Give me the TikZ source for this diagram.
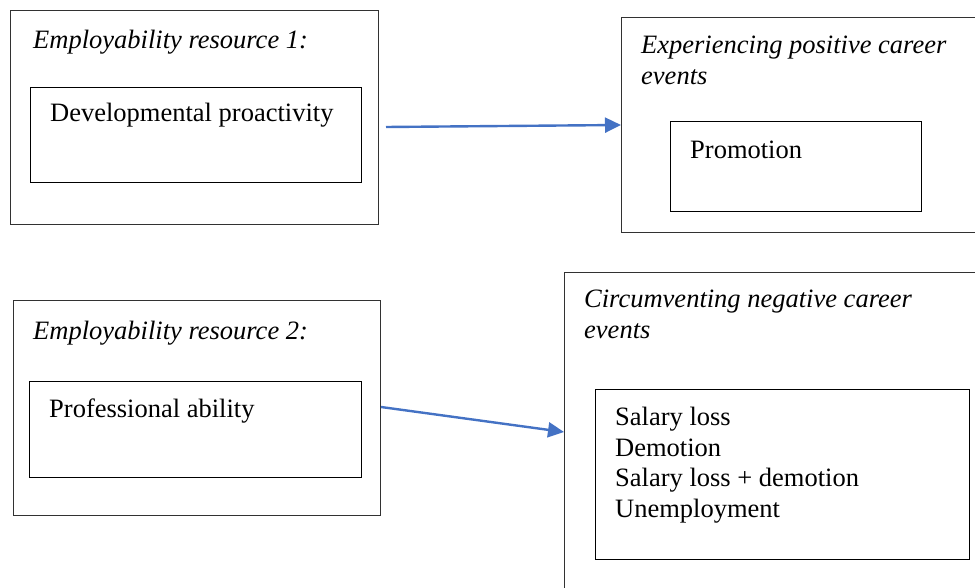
\documentclass[tikz,border=0pt]{standalone}
\usepackage{fontspec}
\setmainfont{Liberation Serif}
\usetikzlibrary{arrows.meta}
\definecolor{arrowblue}{RGB}{68,114,196}
\definecolor{boxgray}{RGB}{50,50,50}
\tikzset{
  outerbox/.style={draw=boxgray, line width=1.3pt, inner sep=0pt, anchor=north west},
  innerbox/.style={draw=black, line width=1.1pt, inner sep=0pt, anchor=north west},
  lbl/.style={anchor=base west, inner sep=0pt, font=\fontsize{26.5}{30.5}\selectfont},
  ilbl/.style={lbl, font=\fontsize{26.5}{30.5}\selectfont\itshape},
  conn/.style={draw=arrowblue, line width=2.4pt, -{Triangle[length=16pt,width=15pt]}}
}
\begin{document}
\begin{tikzpicture}[x=1pt,y=-1pt]
\useasboundingbox (0,0) rectangle (975,588);
\clip (0,0) rectangle (975,588);
% Box A
\node[outerbox, minimum width=368pt, minimum height=214pt] (A) at (10,10) {};
\node[ilbl] (At) at (33,49) {Employability resource 1:};
\node[innerbox, minimum width=331pt, minimum height=95pt] (Ai) at (30,87) {};
\node[lbl] (Ail) at (50,122) {Developmental proactivity};
% Box B
\node[outerbox, minimum width=380pt, minimum height=215pt] (B) at (621,17) {};
\node[ilbl, align=left, anchor=north west] (Bt) at (641,36) {Experiencing positive career\\events};
\node[innerbox, minimum width=251pt, minimum height=90pt] (Bi) at (670,121) {};
\node[lbl] (Bil) at (690,159) {Promotion};
% Box C
\node[outerbox, minimum width=367pt, minimum height=215pt] (C) at (13,300) {};
\node[ilbl] (Ct) at (33,339) {Employability resource 2:};
\node[innerbox, minimum width=332pt, minimum height=96pt] (Ci) at (29,381) {};
\node[lbl] (Cil) at (49,417) {Professional ability};
% Box D
\node[outerbox, minimum width=440pt, minimum height=340pt] (D) at (564,272) {};
\node[ilbl, align=left, anchor=north west] (Dt) at (584,290) {Circumventing negative career\\events};
\node[innerbox, minimum width=374pt, minimum height=170pt] (Di) at (595,389) {};
\node[lbl, align=left, anchor=north west] (Dil) at (615,407) {Salary loss\\Demotion\\Salary loss + demotion\\Unemployment};
% connectors
\coordinate (s1) at (386,127);
\coordinate (e1) at (621,125);
\coordinate (s2) at (381,407);
\coordinate (e2) at (564,432);
\draw[conn] (s1) -- (e1);
\draw[conn] (s2) -- (e2);
\end{tikzpicture}
\end{document}
